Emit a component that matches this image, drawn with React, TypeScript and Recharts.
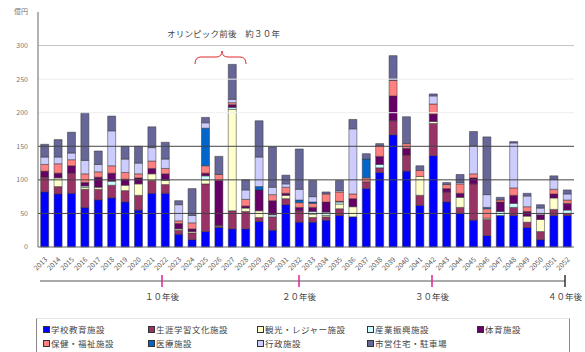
import { Bar, BarChart, ReferenceLine, XAxis, YAxis } from "recharts";

const years = [
  2013, 2014, 2015, 2016, 2017, 2018, 2019, 2020, 2021, 2022,
  2023, 2024, 2025, 2026, 2027, 2028, 2029, 2030, 2031, 2032,
  2033, 2034, 2035, 2036, 2037, 2038, 2039, 2040, 2041, 2042,
  2043, 2044, 2045, 2046, 2047, 2048, 2049, 2050, 2051, 2052,
];

// 億円, stacked bottom to top
const school = [82, 79, 80, 59, 70, 73, 67, 55, 80, 80, 19, 11, 23, 29, 27, 27, 38, 25, 63, 37, 37, 40, 47, 45, 87, 111, 167, 113, 62, 136, 67, 50, 40, 17, 47, 47, 29, 11, 47, 47];
const lifelong = [22, 11, 30, 27, 16, 19, 17, 22, 19, 13, 6, 10, 71, 2, 27, 26, 6, 20, 9, 17, 7, 5, 10, 0, 10, 7, 21, 24, 15, 48, 15, 9, 54, 24, 0, 12, 8, 12, 9, 3];
const tourism = [0, 13, 0, 3, 3, 0, 8, 17, 10, 6, 2, 2, 6, 1, 151, 5, 10, 0, 5, 0, 5, 2, 7, 15, 0, 0, 0, 0, 28, 3, 0, 15, 0, 2, 0, 0, 9, 18, 17, 0];
const industry = [0, 0, 0, 2, 0, 6, 0, 0, 0, 1, 0, 0, 6, 0, 3, 0, 0, 3, 0, 0, 4, 5, 3, 0, 0, 5, 0, 0, 0, 0, 0, 0, 0, 0, 6, 6, 0, 0, 0, 5];
const sports = [9, 7, 11, 5, 15, 12, 9, 9, 8, 9, 8, 4, 4, 67, 4, 3, 31, 21, 3, 5, 6, 15, 1, 12, 0, 12, 37, 10, 0, 11, 5, 6, 9, 0, 14, 12, 7, 7, 6, 10];
const welfare = [10, 14, 9, 13, 8, 11, 10, 6, 11, 8, 4, 9, 11, 9, 3, 10, 0, 9, 9, 7, 6, 12, 14, 7, 6, 16, 23, 7, 9, 15, 6, 14, 6, 14, 3, 11, 7, 0, 7, 5];
const medical = [0, 0, 0, 0, 0, 0, 0, 0, 0, 0, 0, 0, 56, 0, 0, 0, 5, 0, 0, 4, 2, 0, 0, 0, 28, 0, 0, 0, 0, 0, 0, 0, 0, 2, 0, 0, 0, 0, 0, 0];
const admin = [11, 10, 10, 20, 11, 52, 20, 16, 20, 14, 24, 11, 8, 0, 5, 14, 44, 11, 5, 16, 8, 0, 2, 97, 0, 0, 0, 0, 0, 12, 0, 2, 42, 19, 0, 67, 16, 10, 15, 9];
const housing = [19, 26, 31, 71, 20, 22, 19, 25, 31, 25, 6, 40, 8, 27, 52, 15, 54, 60, 13, 60, 24, 3, 15, 14, 8, 3, 37, 40, 7, 3, 3, 12, 21, 86, 4, 2, 4, 5, 5, 6];

const seriesNames = [
  "学校教育施設",
  "生涯学習文化施設",
  "観光・レジャー施設",
  "産業振興施設",
  "体育施設",
  "保健・福祉施設",
  "医療施設",
  "行政施設",
  "市営住宅・駐車場",
];
const seriesValues = [school, lifelong, tourism, industry, sports, welfare, medical, admin, housing];
const seriesColors = ["#0000ff", "#993366", "#ffffcc", "#ccffff", "#660066", "#ff8080", "#0066cc", "#ccccff", "#666699"];

const yTicks = [0, 50, 100, 150, 200, 250, 300, 350];
const milestones = [
  { label: "１０年後", x: 162, color: "#e0209a" },
  { label: "２０年後", x: 299, color: "#e0209a" },
  { label: "３０年後", x: 432, color: "#e0209a" },
  { label: "４０年後", x: 565, color: "#333" },
];

const data = years.map((year, i) => {
  const row: Record<string, number | string> = { year: String(year) };
  seriesNames.forEach((name, s) => {
    row[name] = seriesValues[s][i];
  });
  return row;
});

const FONT = "'Noto Sans CJK JP', 'Noto Sans', sans-serif";

function YearTick({ x, y, payload }: any) {
  return (
    <text
      transform={`translate(${x + 3},${y + 5}) rotate(-45)`}
      textAnchor="end"
      fontSize={7}
      fill="#555"
      fontFamily={FONT}
    >
      {payload.value}
    </text>
  );
}

export default function App() {
  return (
    <div
      style={{
        position: "absolute",
        left: 0,
        top: 0,
        width: 585,
        height: 352,
        background: "#fff",
        fontFamily: FONT,
      }}
    >
      <BarChart
        width={585}
        height={275}
        data={data}
        margin={{ top: 12, right: 11, left: 0, bottom: 0 }}
        barCategoryGap="20%"
      >
        <XAxis
          dataKey="year"
          interval={0}
          height={28}
          tick={<YearTick />}
          tickLine={false}
          axisLine={{ stroke: "#666" }}
        />
        <YAxis
          width={38}
          domain={[0, 350]}
          ticks={yTicks}
          interval={0}
          tickLine={false}
          tickSize={0}
          tickMargin={10}
          axisLine={{ stroke: "#666" }}
          tick={{ fontSize: 7, fill: "#777", fontFamily: FONT }}
          tickFormatter={(v: number) => (v === 350 ? "億円" : String(v))}
        />
        <YAxis
          yAxisId="frame"
          orientation="right"
          width={0}
          domain={[0, 350]}
          tick={false}
          tickLine={false}
          axisLine={{ stroke: "#777" }}
        />
        {seriesNames.map((name, s) => (
          <Bar
            key={name}
            dataKey={name}
            stackId="cost"
            fill={seriesColors[s]}
            stroke="#333"
            strokeWidth={0.5}
            isAnimationActive={false}
          />
        ))}
        <ReferenceLine y={200} stroke="#eeeeee" />
        <ReferenceLine y={250} stroke="#eeeeee" />
        <ReferenceLine y={300} stroke="#c4c4c4" />
        <ReferenceLine y={50} stroke="#444" />
        <ReferenceLine y={100} stroke="#444" />
        <ReferenceLine y={150} stroke="#444" />
      </BarChart>

      <svg
        width={585}
        height={352}
        style={{ position: "absolute", left: 0, top: 0, pointerEvents: "none" }}
      >
        <text x={167} y={37} fontSize={8.5} fill="#444" fontFamily={FONT} textLength={113}>
          オリンピック前後　約３０年
        </text>
        <path
          d="M195,64 Q195,57 201,57 L216,57 Q222,57 222,51 Q222,57 228,57 L240,57 Q246,57 246,64"
          fill="none"
          stroke="#e02828"
          strokeWidth={1}
        />
        <line x1={40} y1={281} x2={565} y2={281} stroke="#555" strokeWidth={1} />
        {milestones.map((m) => (
          <g key={m.label}>
            <line x1={m.x} y1={275} x2={m.x} y2={287} stroke={m.color} strokeWidth={1.5} />
            <text
              x={m.x}
              y={300}
              textAnchor="middle"
              fontSize={8.5}
              fill="#444"
              fontFamily={FONT}
            >
              {m.label}
            </text>
          </g>
        ))}
      </svg>

      <div
        style={{
          position: "absolute",
          left: 36,
          top: 318,
          width: 534,
          height: 34,
          borderLeft: "1px solid #888",
          borderRight: "1px solid #888",
          borderTop: "1px solid #e4e4e4",
          boxSizing: "border-box",
        }}
      >
        {seriesNames.map((name, s) => {
          const col = s % 5;
          const row = Math.floor(s / 5);
          const lefts = [6, 111, 220, 330, 440];
          return (
            <div
              key={name}
              style={{
                position: "absolute",
                left: lefts[col],
                top: 4 + row * 14,
                fontSize: 8.5,
                color: "#444",
                whiteSpace: "nowrap",
                display: "flex",
                alignItems: "center",
                letterSpacing: 0.5,
              }}
            >
              <span
                style={{
                  display: "inline-block",
                  width: 5,
                  height: 5,
                  background: seriesColors[s],
                  border: "1px solid #333",
                  marginRight: 1,
                }}
              />
              {name}
            </div>
          );
        })}
      </div>
    </div>
  );
}
